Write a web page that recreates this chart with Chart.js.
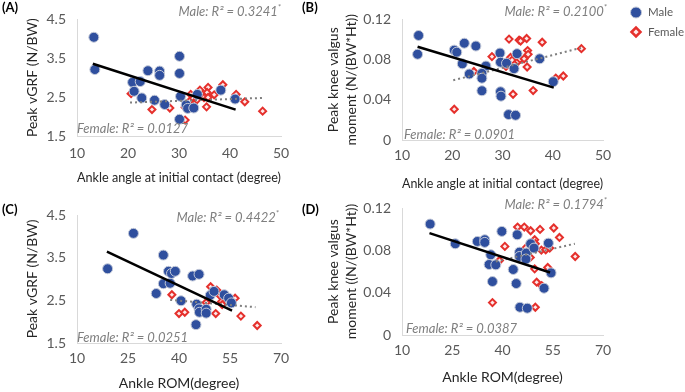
<!DOCTYPE html>
<html>
<head>
<meta charset="utf-8">
<script src="https://cdn.jsdelivr.net/npm/chart.js@4/dist/chart.umd.min.js"></script>
<style>
html, body { margin: 0; padding: 0; background: #fff; }
#wrap { position: relative; width: 685px; height: 392px; overflow: hidden; }
#wrap canvas { position: absolute; left: 0; top: 0; }
</style>
</head>
<body>
<div id="wrap">
	<canvas id="cA" width="685" height="392"></canvas>
	<canvas id="cB" width="685" height="392"></canvas>
	<canvas id="cC" width="685" height="392"></canvas>
	<canvas id="cD" width="685" height="392"></canvas>
</div>
<script>
// ---- data: [x, y] pairs ----
// (A) ankle angle at initial contact vs peak vGRF
var maleA = [[13.3,4.04],[13.5,3.21],[20.9,2.88],[22.4,2.90],[21.2,2.65],[22.7,2.48],[23.9,3.18],[26.2,3.17],[26.2,3.06],[25.2,2.42],[27.2,2.31],
	[30.1,3.55],[30.1,3.11],[30.3,2.52],[30.1,1.93],[31.4,2.30],[31.7,2.21],[32.9,2.22],[33.6,2.57],[38.2,2.68],[41.0,2.45]];
var femaleA = [[20.6,2.59],[24.7,2.18],[28.2,2.22],[31.2,1.91],[31.2,2.24],[32.3,2.57],[32.2,2.41],[32.8,2.47],[33.5,2.43],[34.1,2.68],
	[34.9,2.49],[35.7,2.75],[35.5,2.62],[35.7,2.49],[35.4,2.25],[36.9,2.56],[38.6,2.82],[41.2,2.57],[42.9,2.38],[46.4,2.14]];
var trendMaleA = [[13.1,3.36],[41.1,2.18]];
var trendFemaleA = [[20.4,2.36],[46.5,2.48]];

// (B) ankle angle at initial contact vs peak knee valgus moment
var maleB = [[13.3,0.104],[13.1,0.0853],[20.4,0.0894],[20.9,0.0874],[22.4,0.0963],[22.0,0.0758],[24.7,0.0935],[23.4,0.0657],[26.7,0.0736],
	[25.9,0.0663],[25.9,0.0615],[25.9,0.049],[29.5,0.0865],[29.6,0.0774],[29.6,0.048],[29.7,0.0436],[30.8,0.0764],[32.3,0.071],[32.9,0.0859],
	[31.2,0.0253],[32.6,0.0246],[37.4,0.0808],[40.1,0.058]];
var femaleB = [[20.4,0.0306],[24.3,0.0682],[27.9,0.083],[30.7,0.0732],[31.3,0.1004],[31.6,0.0821],[31.9,0.0795],[32.1,0.0455],[33.1,0.0783],
	[33.3,0.0994],[33.6,0.0985],[33.5,0.0805],[34.3,0.0808],[34.8,0.101],[35.0,0.089],[35.1,0.0852],[34.9,0.0726],[36.1,0.0492],[37.9,0.0973],
	[40.6,0.0616],[42.1,0.0637],[45.7,0.0909]];
var trendMaleB = [[13.1,0.0928],[40.2,0.0521]];
var trendFemaleB = [[20.2,0.0594],[45.6,0.0916]];

// (C) ankle ROM vs peak vGRF
var maleC = [[19.0,3.24],[26.6,4.07],[33.3,2.66],[35.4,3.56],[35.4,2.89],[36.9,3.18],[37.4,2.90],[37.8,3.13],[38.9,3.18],[40.6,2.49],[44.0,3.07],
	[45.9,3.11],[45.0,1.93],[45.2,2.41],[45.9,2.30],[46.0,2.22],[48.0,2.29],[48.0,2.20],[49.2,2.62],[50.3,2.71],[53.3,2.63],[54.6,2.55],[55.4,2.44]];
var femaleC = [[37.9,2.63],[40.0,2.19],[41.7,2.22],[48.0,2.45],[49.3,2.82],[50.8,2.19],[51.1,2.74],[51.7,2.66],[52.1,2.61],[52.5,2.47],
	[52.7,2.40],[53.8,2.63],[56.5,2.55],[58.2,2.13],[63.0,1.91]];
var trendMaleC = [[18.8,3.64],[55.6,2.26]];
var trendFemaleC = [[37.4,2.51],[62.5,2.34]];

// (D) ankle ROM vs peak knee valgus moment
var maleD = [[18.4,0.1048],[25.9,0.0862],[32.5,0.0884],[34.7,0.090],[34.7,0.0875],[36.5,0.0758],[36.0,0.0666],[38.0,0.0663],[37.0,0.0505],
	[39.8,0.0979],[43.2,0.0619],[44.1,0.0486],[44.4,0.0947],[45.1,0.0783],[45.1,0.0742],[45.2,0.0262],[47.1,0.0774],[47.0,0.0717],[47.4,0.0253],
	[48.4,0.0862],[49.4,0.0821],[52.4,0.0442],[53.7,0.0868],[54.5,0.0587]];
var femaleD = [[37.0,0.0306],[39.1,0.0704],[40.7,0.0837],[44.5,0.102],[46.5,0.102],[46.9,0.0821],[48.4,0.0985],[48.3,0.0733],[49.6,0.090],
	[49.8,0.0862],[49.6,0.0625],[50.2,0.0499],[49.8,0.0262],[51.2,0.0998],[51.6,0.0802],[51.7,0.0467],[52.9,0.0805],[53.5,0.0638],[54.1,0.0821],
	[55.3,0.1011],[57.0,0.0922],[61.7,0.0742]];
var trendMaleD = [[18.2,0.0963],[54.2,0.059]];
var trendFemaleD = [[38.0,0.0695],[61.6,0.0862]];

// ---- axes ----
var xTicksAngle = [10, 20, 30, 40, 50];
var xTicksROM = [10, 25, 40, 55, 70];
var yTicksGRF = [1.5, 2.5, 3.5, 4.5];
var yTicksMoment = [0, 0.04, 0.08, 0.12];

var FONT = "Lato, 'Open Sans', sans-serif";
var MALE_COLOR = "#2f4f9e";
var FEMALE_COLOR = "#e5302c";

function toXY(arr) {
	return arr.map(function (p) { return {x: p[0], y: p[1]}; });
}

// panel letters, R² notes and legend
var panelText = {
	id: "panelText",
	afterDraw: function (chart) {
		var p = chart.options.plugins.panelText;
		var ctx = chart.ctx;
		ctx.save();
		ctx.textBaseline = "middle";
		ctx.fillStyle = "#000";
		ctx.font = "bold 13px " + FONT;
		ctx.textAlign = "left";
		ctx.fillText(p.letter, p.letterPos[0], p.letterPos[1]);

		ctx.fillStyle = "#7f7f7f";
		ctx.font = "italic 13px " + FONT;
		ctx.textAlign = "left";
		ctx.fillText(p.femaleNote, p.femalePos[0], p.femalePos[1]);
		ctx.font = "italic 8px " + FONT;
		var starW = ctx.measureText("*").width;
		ctx.textAlign = "right";
		ctx.fillText("*", p.malePos[0], p.malePos[1] - 5);
		ctx.font = "italic 13px " + FONT;
		ctx.fillText(p.maleNote, p.malePos[0] - starW, p.malePos[1]);

		if (p.legend) {
			var lx = p.legend[0], ly = p.legend[1];
			ctx.fillStyle = MALE_COLOR;
			ctx.strokeStyle = "#c3c9d8";
			ctx.lineWidth = 1;
			Chart.helpers.drawPoint(ctx, {pointStyle: "circle", radius: 5.5, borderWidth: 1}, lx, ly);
			ctx.fillStyle = "#fde8e8";
			ctx.strokeStyle = FEMALE_COLOR;
			ctx.lineWidth = 2.5;
			Chart.helpers.drawPoint(ctx, {pointStyle: "rectRot", radius: 4.5, borderWidth: 2.5}, lx, ly + 19.5);
			ctx.fillStyle = "#595959";
			ctx.font = "11.5px " + FONT;
			ctx.textAlign = "left";
			ctx.fillText("Male", lx + 12, ly);
			ctx.fillText("Female", lx + 12, ly + 19.5);
		}
		ctx.restore();
	}
};

function makePanel(id, p) {
	var tickFont = {family: FONT, size: 14};
	var titleFont = {family: FONT, size: 14, lineHeight: "18px"};
	new Chart(document.getElementById(id), {
		type: "scatter",
		data: {
			datasets: [
				{label: "Male trend", data: toXY(p.trendMale), showLine: true, borderColor: "#000", borderWidth: 2.5, pointRadius: 0},
				{label: "Female trend", data: toXY(p.trendFemale), showLine: true, borderColor: "#7f7f7f", borderWidth: 2, borderDash: [2, 3], pointRadius: 0},
				{label: "Male", data: toXY(p.male), pointStyle: "circle", pointRadius: 5, backgroundColor: MALE_COLOR, borderColor: "#c3c9d8", borderWidth: 1},
				{label: "Female", data: toXY(p.female), pointStyle: "rectRot", pointRadius: 3.5, backgroundColor: "#fde8e8", borderColor: FEMALE_COLOR, borderWidth: 2}
			]
		},
		options: {
			responsive: false,
			animation: false,
			devicePixelRatio: 1,
			layout: {padding: p.pad},
			plugins: {
				legend: {display: false},
				tooltip: {enabled: false},
				panelText: p
			},
			scales: {
				x: {
					type: "linear",
					min: p.xTicks[0],
					max: p.xTicks[p.xTicks.length - 1],
					afterBuildTicks: function (s) { s.ticks = p.xTicks.map(function (v) { return {value: v}; }); },
					afterFit: function (s) { s.height = p.xH; },
					grid: {display: false, drawTicks: false},
					border: {display: true, color: "#d9d9d9", width: 1},
					ticks: {color: "#595959", font: tickFont, padding: p.xTickPad, maxRotation: 0},
					title: {display: true, text: p.xTitle, color: "#262626", font: titleFont, padding: {top: 0, bottom: p.xTitlePad}}
				},
				y: {
					type: "linear",
					min: p.yTicks[0],
					max: p.yTicks[p.yTicks.length - 1],
					afterBuildTicks: function (s) { s.ticks = p.yTicks.map(function (v) { return {value: v}; }); },
					afterFit: function (s) { s.width = p.yW; },
					grid: {display: false, drawTicks: false},
					border: {display: true, color: "#d9d9d9", width: 1},
					ticks: {color: "#595959", font: tickFont, padding: 11},
					title: {display: true, text: p.yTitle, color: "#262626", font: titleFont, padding: {top: p.yTitlePad, bottom: 0}}
				}
			}
		},
		plugins: [panelText]
	});
}

makePanel("cA", {
	male: maleA, female: femaleA, trendMale: trendMaleA, trendFemale: trendFemaleA,
	xTicks: xTicksAngle, yTicks: yTicksGRF,
	xTitle: "Ankle angle at initial contact (degree)", yTitle: "Peak vGRF (N/BW)",
	pad: {left: 0, top: 7, right: 404, bottom: 197}, xH: 59, yW: 77,
	xTickPad: 9.5, xTitlePad: 9, yTitlePad: 23,
	letter: "(A)", letterPos: [2, 8],
	maleNote: "Male: R² = 0.3241", malePos: [281, 12],
	femaleNote: "Female: R² = 0.0127", femalePos: [77, 129]
});

makePanel("cB", {
	male: maleB, female: femaleB, trendMale: trendMaleB, trendFemale: trendFemaleB,
	xTicks: xTicksAngle, yTicks: yTicksMoment,
	xTitle: "Ankle angle at initial contact (degree)", yTitle: ["Peak knee valgus", "moment (N/(BW*Ht))"],
	pad: {left: 300, top: 13, right: 82, bottom: 197}, xH: 55, yW: 102,
	xTickPad: 7.5, xTitlePad: 3, yTitlePad: 24,
	letter: "(B)", letterPos: [302, 8],
	maleNote: "Male: R² = 0.2100", malePos: [607, 12],
	femaleNote: "Female: R² = 0.0901", femalePos: [404, 135],
	legend: [636, 12.5]
});

makePanel("cC", {
	male: maleC, female: femaleC, trendMale: trendMaleC, trendFemale: trendFemaleC,
	xTicks: xTicksROM, yTicks: yTicksGRF,
	xTitle: "Ankle ROM(degree)", yTitle: "Peak vGRF (N/BW)",
	pad: {left: 0, top: 215, right: 404, bottom: 0}, xH: 49, yW: 77,
	xTickPad: 7.5, xTitlePad: 0, yTitlePad: 23,
	letter: "(C)", letterPos: [2, 210],
	maleNote: "Male: R² = 0.4422", malePos: [279, 218],
	femaleNote: "Female: R² = 0.0251", femalePos: [77, 338]
});

makePanel("cD", {
	male: maleD, female: femaleD, trendMale: trendMaleD, trendFemale: trendFemaleD,
	xTicks: xTicksROM, yTicks: yTicksMoment,
	xTitle: "Ankle ROM(degree)", yTitle: ["Peak knee valgus", "moment ((N/(BW*Ht))"],
	pad: {left: 300, top: 208, right: 82, bottom: 0}, xH: 57, yW: 102,
	xTickPad: 7.5, xTitlePad: 6, yTitlePad: 24,
	letter: "(D)", letterPos: [302, 210],
	maleNote: "Male: R² = 0.1794", malePos: [607, 205],
	femaleNote: "Female: R² = 0.0387", femalePos: [406, 329]
});
</script>
</body>
</html>
